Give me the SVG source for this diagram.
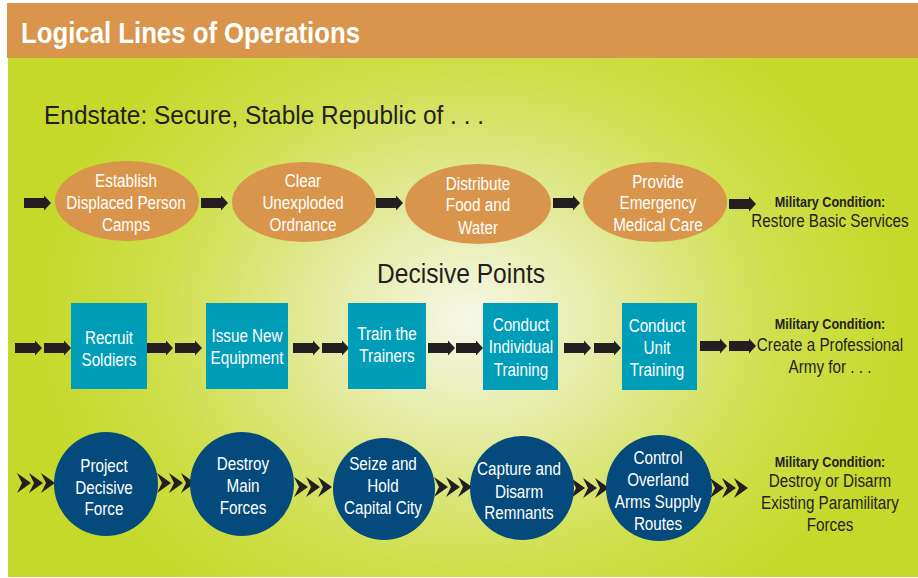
<svg xmlns="http://www.w3.org/2000/svg" xmlns:xlink="http://www.w3.org/1999/xlink" width="918" height="578" viewBox="0 0 918 578">
<style>
text{font-family:"Liberation Sans",Arial,sans-serif;}
.lbl{fill:#ffffff;font-size:17.5px;text-anchor:middle;}
.cond{fill:#231f20;font-size:17.5px;text-anchor:middle;}
.condh{fill:#231f20;font-size:14.5px;font-weight:bold;text-anchor:middle;}
.ell{fill:#d9954b;}
.box{fill:#009db9;}
.circ{fill:#044a7c;}
.arr{fill:#231f20;}
</style>
<defs>
<radialGradient id="bg" gradientUnits="userSpaceOnUse" cx="470" cy="320" r="440" gradientTransform="translate(470 320) scale(1 0.8) translate(-470 -320)">
<stop offset="0" stop-color="#f6f8e6"/>
<stop offset="0.3" stop-color="#e6eca8"/>
<stop offset="0.7" stop-color="#cfdf4c"/>
<stop offset="1" stop-color="#c5d92a"/>
</radialGradient>
<polygon id="ar" points="0,-5 20,-5 20,-7.5 27,0 20,7.5 20,5 0,5"/>
<polygon id="ch" points="0,-10 14,0 0,10 5,0"/>
<g id="ch3"><use xlink:href="#ch" x="0"/><use xlink:href="#ch" x="12"/><use xlink:href="#ch" x="24"/></g>
</defs>
<rect x="7" y="3" width="911" height="55" fill="#d9954b"/>
<rect x="8" y="58" width="910" height="519" fill="url(#bg)"/>
<text x="21" y="43" font-size="30" font-weight="bold" fill="#ffffff" textLength="339" lengthAdjust="spacingAndGlyphs">Logical Lines of Operations</text>
<text x="44" y="124" font-size="25.5" fill="#231f20" textLength="440" lengthAdjust="spacingAndGlyphs">Endstate: Secure, Stable Republic of . . .</text>
<text x="377" y="283" font-size="27" fill="#231f20" textLength="168" lengthAdjust="spacingAndGlyphs">Decisive Points</text>

<g id="connectors" class="arr">
<use xlink:href="#ar" x="24" y="203"/>
<use xlink:href="#ar" x="201" y="203"/>
<use xlink:href="#ar" x="376" y="203"/>
<use xlink:href="#ar" x="553" y="203"/>
<use xlink:href="#ar" x="729" y="204"/>

<use xlink:href="#ar" x="15" y="348"/>
<use xlink:href="#ar" x="44" y="348"/>
<use xlink:href="#ar" x="146" y="348"/>
<use xlink:href="#ar" x="175" y="348"/>
<use xlink:href="#ar" x="293" y="348"/>
<use xlink:href="#ar" x="322" y="348"/>
<use xlink:href="#ar" x="428" y="348"/>
<use xlink:href="#ar" x="456" y="348"/>
<use xlink:href="#ar" x="564" y="348"/>
<use xlink:href="#ar" x="594" y="348"/>
<use xlink:href="#ar" x="700" y="346"/>
<use xlink:href="#ar" x="729" y="346"/>

<use xlink:href="#ch3" x="17" y="483"/>
<use xlink:href="#ch3" x="157" y="483"/>
<use xlink:href="#ch3" x="294" y="487"/>
<use xlink:href="#ch3" x="434" y="487"/>
<use xlink:href="#ch3" x="571" y="488"/>
<use xlink:href="#ch3" x="710" y="488"/>
</g>

<g id="n-camps"><ellipse class="ell" cx="127" cy="201" rx="72" ry="40"/>
<g transform="matrix(0.87 0 0 1 16.38 0)"><text class="lbl" x="126" y="187">Establish</text><text class="lbl" x="126" y="209">Displaced Person</text><text class="lbl" x="126" y="231">Camps</text></g></g>
<g id="n-ordnance"><ellipse class="ell" cx="304" cy="202" rx="72" ry="40"/>
<g transform="matrix(0.87 0 0 1 39.39 0)"><text class="lbl" x="303" y="187">Clear</text><text class="lbl" x="303" y="209">Unexploded</text><text class="lbl" x="303" y="231">Ordnance</text></g></g>
<g id="n-food"><ellipse class="ell" cx="478" cy="204" rx="73" ry="40"/>
<g transform="matrix(0.87 0 0 1 62.14 0)"><text class="lbl" x="478" y="190">Distribute</text><text class="lbl" x="478" y="211">Food and</text><text class="lbl" x="478" y="234">Water</text></g></g>
<g id="n-medical"><ellipse class="ell" cx="655" cy="202" rx="72" ry="40"/>
<g transform="matrix(0.87 0 0 1 85.54 0)"><text class="lbl" x="658" y="188">Provide</text><text class="lbl" x="658" y="209">Emergency</text><text class="lbl" x="658" y="231">Medical Care</text></g></g>
<g id="c-services" transform="matrix(0.87 0 0 1 107.9 0)"><text class="condh" x="830" y="207">Military Condition:</text><text class="cond" x="830" y="227">Restore Basic Services</text></g>

<g id="n-recruit"><rect class="box" x="71" y="303" width="76" height="86"/>
<g transform="matrix(0.87 0 0 1 14.17 0)"><text class="lbl" x="109" y="344">Recruit</text><text class="lbl" x="109" y="366">Soldiers</text></g></g>
<g id="n-equip"><rect class="box" x="206" y="303" width="82" height="86"/>
<g transform="matrix(0.87 0 0 1 32.11 0)"><text class="lbl" x="247" y="342">Issue New</text><text class="lbl" x="247" y="364">Equipment</text></g></g>
<g id="n-trainers"><rect class="box" x="348" y="303" width="78" height="86"/>
<g transform="matrix(0.87 0 0 1 50.31 0)"><text class="lbl" x="387" y="340">Train the</text><text class="lbl" x="387" y="362">Trainers</text></g></g>
<g id="n-individual"><rect class="box" x="483" y="303" width="75" height="87"/>
<g transform="matrix(0.87 0 0 1 67.73 0)"><text class="lbl" x="521" y="331">Conduct</text><text class="lbl" x="521" y="353">Individual</text><text class="lbl" x="521" y="376">Training</text></g></g>
<g id="n-unit"><rect class="box" x="622" y="303" width="75" height="87"/>
<g transform="matrix(0.87 0 0 1 85.41 0)"><text class="lbl" x="657" y="332">Conduct</text><text class="lbl" x="657" y="354">Unit</text><text class="lbl" x="657" y="376">Training</text></g></g>
<g id="c-army" transform="matrix(0.87 0 0 1 107.9 0)"><text class="condh" x="830" y="329">Military Condition:</text><text class="cond" x="830" y="351">Create a Professional</text><text class="cond" x="830" y="373">Army for . . .</text></g>

<g id="n-project"><circle class="circ" cx="106" cy="484" r="52"/>
<g transform="matrix(0.87 0 0 1 13.52 0)"><text class="lbl" x="104" y="472">Project</text><text class="lbl" x="104" y="494">Decisive</text><text class="lbl" x="104" y="515">Force</text></g></g>
<g id="n-destroy"><circle class="circ" cx="242" cy="484" r="52"/>
<g transform="matrix(0.87 0 0 1 31.59 0)"><text class="lbl" x="243" y="470">Destroy</text><text class="lbl" x="243" y="492">Main</text><text class="lbl" x="243" y="514">Forces</text></g></g>
<g id="n-seize"><circle class="circ" cx="384" cy="489" r="51"/>
<g transform="matrix(0.87 0 0 1 49.79 0)"><text class="lbl" x="383" y="470">Seize and</text><text class="lbl" x="383" y="492">Hold</text><text class="lbl" x="383" y="514">Capital City</text></g></g>
<g id="n-capture"><circle class="circ" cx="522" cy="488" r="52"/>
<g transform="matrix(0.87 0 0 1 67.47 0)"><text class="lbl" x="519" y="475">Capture and</text><text class="lbl" x="519" y="498">Disarm</text><text class="lbl" x="519" y="519">Remnants</text></g></g>
<g id="n-control"><circle class="circ" cx="659" cy="488" r="53"/>
<g transform="matrix(0.87 0 0 1 85.54 0)"><text class="lbl" x="658" y="464">Control</text><text class="lbl" x="658" y="486">Overland</text><text class="lbl" x="658" y="508">Arms Supply</text><text class="lbl" x="658" y="530">Routes</text></g></g>
<g id="c-paramilitary" transform="matrix(0.87 0 0 1 107.9 0)"><text class="condh" x="830" y="467">Military Condition:</text><text class="cond" x="830" y="487">Destroy or Disarm</text><text class="cond" x="830" y="509">Existing Paramilitary</text><text class="cond" x="830" y="531">Forces</text></g>
</svg>
